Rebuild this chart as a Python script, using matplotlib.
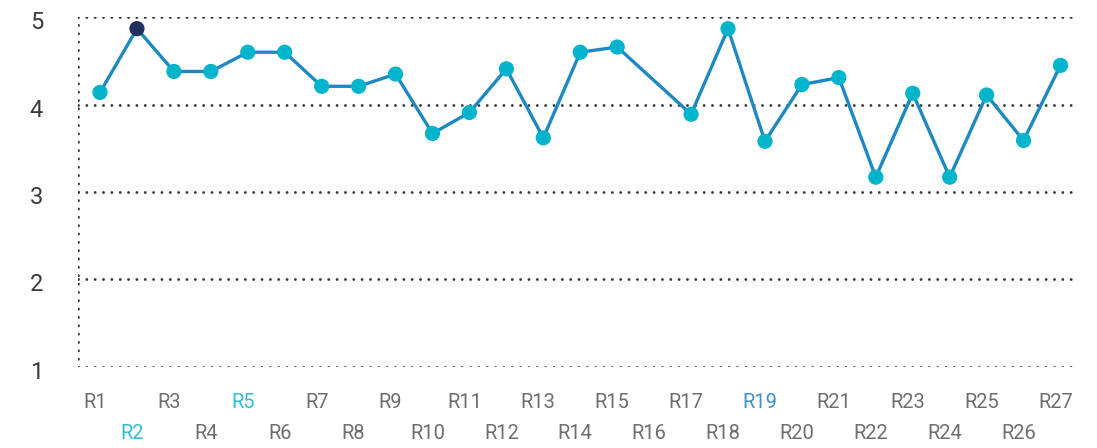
import matplotlib.pyplot as plt
import matplotlib.transforms as mtransforms
import numpy as np

plt.rcParams['font.family'] = ['Roboto', 'DejaVu Sans']

# scores per round, R16 has no score
rounds = ["R%d" % i for i in range(1, 28)]
scores = [4.14, 4.87, 4.38, 4.38, 4.60, 4.60, 4.21, 4.21, 4.35, 3.67,
          3.91, 4.41, 3.62, 4.60, 4.66, None, 3.89, 4.87, 3.58, 4.23,
          4.31, 3.17, 4.13, 3.17, 4.11, 3.59, 4.45]
highlight = "R2"
label_colors = {"R2": "#33bcd8", "R5": "#33bcd8", "R19": "#3f93cc"}
y_ticks = [1, 2, 3, 4, 5]

fig = plt.figure(figsize=(10.97, 4.48), dpi=100)
ax = fig.add_axes([78.3 / 1097, 81.3 / 448, 997.7 / 1097, 349.4 / 448])

x = np.arange(len(rounds))
y = np.array([np.nan if v is None else v for v in scores])
ok = ~np.isnan(y)

# dotted grid + dotted left axis
dot = dict(color="#3a3a3a", lw=2.1, linestyle=(0, (0.01, 2.85)),
           dash_capstyle="round", zorder=1)
for t in y_ticks:
    ax.axhline(t, **dot)
ax.axvline(-0.588, **dot)

ax.plot(x[ok], y[ok], color="#1e88c2", lw=2.4, zorder=2, solid_capstyle="round")
colors = ["#1f2f5e" if r == highlight else "#00b4cc" for r in rounds]
ax.scatter(x[ok], y[ok], s=120, c=[c for c, k in zip(colors, ok) if k],
           edgecolors="none", zorder=3)

ax.set_xlim(-0.588, 26.42)
ax.set_ylim(1, 5)
for s in ax.spines.values():
    s.set_visible(False)

ax.set_yticks(y_ticks)
ax.set_yticklabels([str(t) for t in y_ticks], fontsize=17, color="#3a3a3a", ha="left")
ax.tick_params(axis="y", length=0, pad=35)
for lab in ax.get_yticklabels():
    lab.set_transform(lab.get_transform() +
                      mtransforms.ScaledTranslation(0, -3 / 100, fig.dpi_scale_trans))

# staggered round labels: odd on the first row, even on the second
ax.set_xticks(x[::2])
ax.set_xticklabels(rounds[::2])
ax.set_xticks(x[1::2], minor=True)
ax.set_xticklabels(rounds[1::2], minor=True)
ax.tick_params(axis="x", which="both", length=0, labelsize=14.5, labelcolor="#6e6e6e")
ax.tick_params(axis="x", which="major", pad=19)
ax.tick_params(axis="x", which="minor", pad=41)

shift = mtransforms.ScaledTranslation(-5 / 100, 0, fig.dpi_scale_trans)
for lab in ax.get_xticklabels() + ax.get_xticklabels(minor=True):
    lab.set_transform(lab.get_transform() + shift)
    if lab.get_text() in label_colors:
        lab.set_color(label_colors[lab.get_text()])

fig.savefig("out.png", dpi=100)
